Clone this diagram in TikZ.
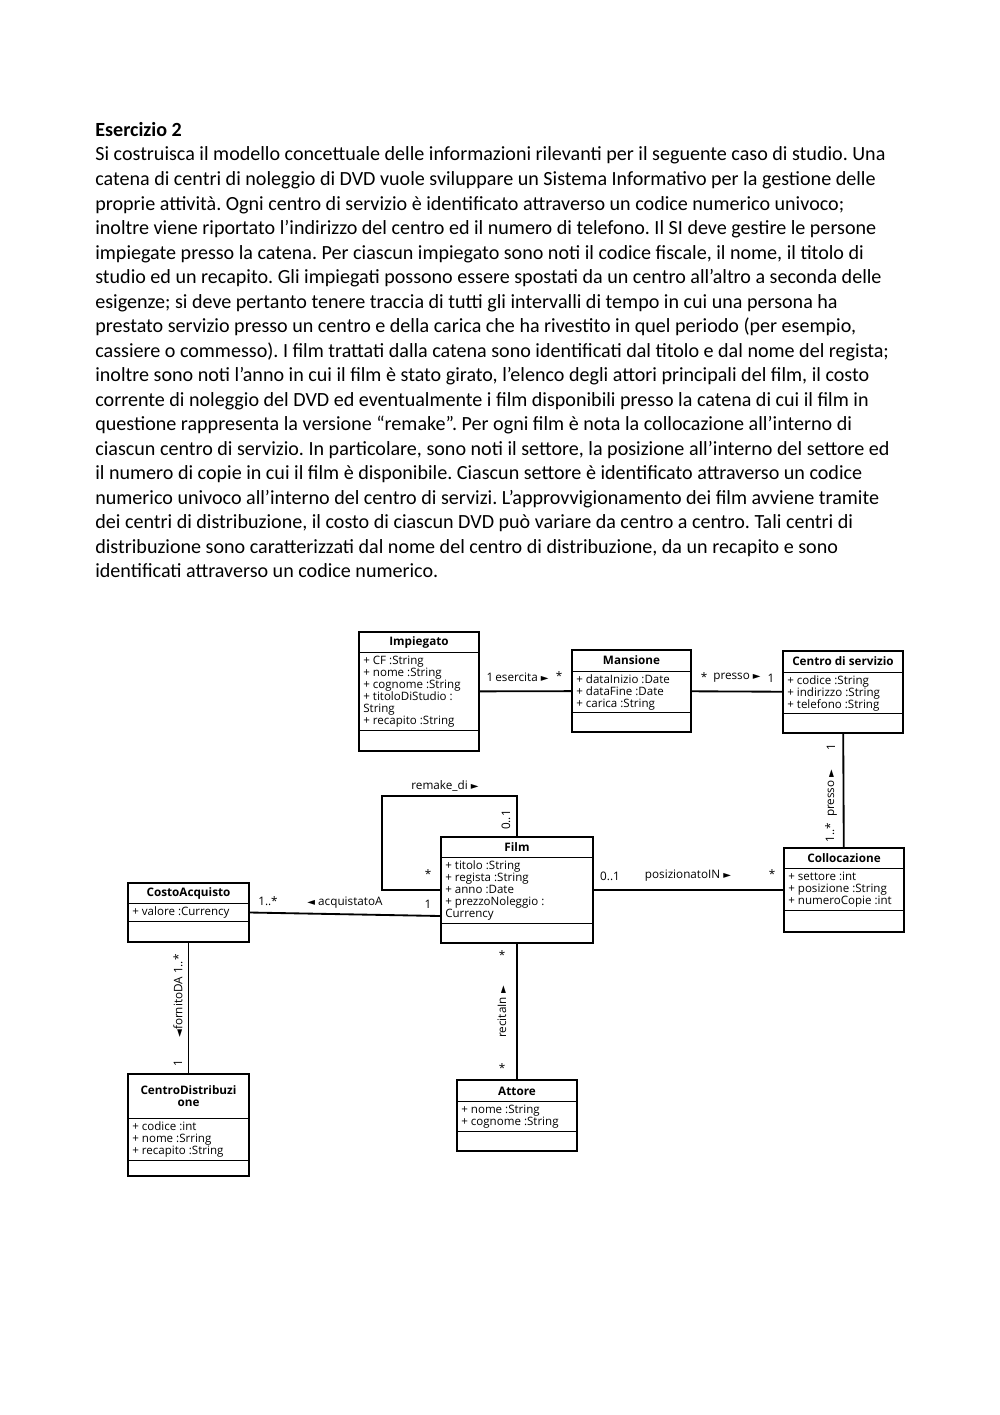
\documentclass[tikz,border=0pt]{standalone}
\usepackage{fontspec}
\setmainfont{Carlito}
\newfontfamily\umlfont{Open Sans}
\newfontfamily\symfont{DejaVu Sans}
\usetikzlibrary{calc,fit}
\newcommand\arrR{{\symfont\fontsize{6}{6}\selectfont\char"25BA}}
\newcommand\arrL{{\symfont\fontsize{6}{6}\selectfont\char"25C4}}
\frenchspacing

\begin{document}
\begin{tikzpicture}[x=0.021cm,y=0.021cm,
    classbox/.style={draw,line width=1.1pt,inner sep=0pt},
    sepline/.style={line width=0.6pt},
    classtitle/.style={font=\umlfont\bfseries\fontsize{7}{7.2}\selectfont,inner sep=0pt,align=center},
    attrs/.style={font=\umlfont\fontsize{6.9}{7.14}\selectfont,inner sep=0pt,align=left,anchor=north west},
    assoc/.style={line width=1.1pt},
    lbl/.style={font=\umlfont\fontsize{7}{8}\selectfont,inner sep=0pt}]
    \useasboundingbox (0,0) rectangle (1000,-1415);

    % testo dell'esercizio
    \node[anchor=north west,inner sep=0pt,align=left,font=\fontsize{12}{14.65}\selectfont]
      (testo) at (95,-122) {\textbf{Esercizio 2}\\
      Si costruisca il modello concettuale delle informazioni rilevanti per il seguente caso di studio. Una\\
      catena di centri di noleggio di DVD vuole sviluppare un Sistema Informativo per la gestione delle\\
      proprie attività. Ogni centro di servizio è identificato attraverso un codice numerico univoco;\\
      inoltre viene riportato l’indirizzo del centro ed il numero di telefono. Il SI deve gestire le persone\\
      impiegate presso la catena. Per ciascun impiegato sono noti il codice fiscale, il nome, il titolo di\\
      studio ed un recapito. Gli impiegati possono essere spostati da un centro all’altro a seconda delle\\
      esigenze; si deve pertanto tenere traccia di tutti gli intervalli di tempo in cui una persona ha\\
      prestato servizio presso un centro e della carica che ha rivestito in quel periodo (per esempio,\\
      cassiere o commesso). I film trattati dalla catena sono identificati dal titolo e dal nome del regista;\\
      inoltre sono noti l’anno in cui il film è stato girato, l’elenco degli attori principali del film, il costo\\
      corrente di noleggio del DVD ed eventualmente i film disponibili presso la catena di cui il film in\\
      questione rappresenta la versione “remake”. Per ogni film è nota la collocazione all’interno di\\
      ciascun centro di servizio. In particolare, sono noti il settore, la posizione all’interno del settore ed\\
      il numero di copie in cui il film è disponibile. Ciascun settore è identificato attraverso un codice\\
      numerico univoco all’interno del centro di servizi. L’approvvigionamento dei film avviene tramite\\
      dei centri di distribuzione, il costo di ciascun DVD può variare da centro a centro. Tali centri di\\
      distribuzione sono caratterizzati dal nome del centro di distribuzione, da un recapito e sono\\
      identificati attraverso un codice numerico.};

    % classi
    \node[classbox,fit={(359,-632) (479,-751)}] (imp) {};
    \node[classtitle] (impT) at (imp.north |- 0,-642) {Impiegato};
    \draw[sepline] (imp.west |- 0,-652) -- (imp.east |- 0,-652);
    \node[attrs] (impA) at (363,-655.5) {+ CF :String\\+ nome :String\\+ cognome :String\\+ titoloDiStudio :\\String\\+ recapito :String};
    \draw[sepline] (imp.west |- 0,-730) -- (imp.east |- 0,-730);

    \node[classbox,fit={(572,-650) (691,-732)}] (man) {};
    \node[classtitle] (manT) at (man.north |- 0,-660.5) {Mansione};
    \draw[sepline] (man.west |- 0,-671) -- (man.east |- 0,-671);
    \node[attrs] (manA) at (576,-674.5) {+ dataInizio :Date\\+ dataFine :Date\\+ carica :String};
    \draw[sepline] (man.west |- 0,-712) -- (man.east |- 0,-712);

    \node[classbox,fit={(783,-651) (903,-733)}] (cds) {};
    \node[classtitle] (cdsT) at (cds.north |- 0,-661) {Centro di servizio};
    \draw[sepline] (cds.west |- 0,-672) -- (cds.east |- 0,-672);
    \node[attrs] (cdsA) at (787,-675.5) {+ codice :String\\+ indirizzo :String\\+ telefono :String};
    \draw[sepline] (cds.west |- 0,-713) -- (cds.east |- 0,-713);

    \node[classbox,fit={(441,-837) (593,-943)}] (film) {};
    \node[classtitle] (filmT) at (film.north |- 0,-847) {Film};
    \draw[sepline] (film.west |- 0,-857) -- (film.east |- 0,-857);
    \node[attrs] (filmA) at (445,-860.5) {+ titolo :String\\+ regista :String\\+ anno :Date\\+ prezzoNoleggio :\\Currency};
    \draw[sepline] (film.west |- 0,-923) -- (film.east |- 0,-923);

    \node[classbox,fit={(784,-848) (904,-932)}] (coll) {};
    \node[classtitle] (collT) at (coll.north |- 0,-858) {Collocazione};
    \draw[sepline] (coll.west |- 0,-868) -- (coll.east |- 0,-868);
    \node[attrs] (collA) at (788,-871.5) {+ settore :int\\+ posizione :String\\+ numeroCopie :int};
    \draw[sepline] (coll.west |- 0,-910) -- (coll.east |- 0,-910);

    \node[classbox,fit={(128,-883) (249,-942)}] (costo) {};
    \node[classtitle] (costoT) at (costo.north |- 0,-893) {CostoAcquisto};
    \draw[sepline] (costo.west |- 0,-903) -- (costo.east |- 0,-903);
    \node[attrs] (costoA) at (132,-906.5) {+ valore :Currency};
    \draw[sepline] (costo.west |- 0,-921) -- (costo.east |- 0,-921);

    \node[classbox,fit={(128,-1074) (249,-1176)}] (cdist) {};
    \node[classtitle] (cdistT) at (cdist.north |- 0,-1096) {CentroDistribuzi\\one};
    \draw[sepline] (cdist.west |- 0,-1118) -- (cdist.east |- 0,-1118);
    \node[attrs] (cdistA) at (132,-1121.5) {+ codice :int\\+ nome :Srring\\+ recapito :String};
    \draw[sepline] (cdist.west |- 0,-1160) -- (cdist.east |- 0,-1160);

    \node[classbox,fit={(457,-1080) (577,-1151)}] (attore) {};
    \node[classtitle] (attoreT) at (attore.north |- 0,-1091) {Attore};
    \draw[sepline] (attore.west |- 0,-1101) -- (attore.east |- 0,-1101);
    \node[attrs] (attoreA) at (461,-1104.5) {+ nome :String\\+ cognome :String};
    \draw[sepline] (attore.west |- 0,-1131) -- (attore.east |- 0,-1131);

    % associazioni
    \draw[assoc] (imp) -- (man);
    \draw[assoc] (man) -- (cds);
    \draw[assoc] (cds) -- (coll);
    \draw[assoc] (film) -- (coll);
    \draw[assoc] (film) -- (attore);
    \draw[assoc] (costo) -- (cdist);
    \draw[assoc] (costo.east) -- ($(film.west)+(0,-26)$);
    \draw[assoc] (film.north) -- ++(0,40) -| ($(film.west)+(-58,0)$) -- (film.west);

    % etichette
    \node[lbl] (esM1) at (490,-677) {1};
    \node[lbl] (esN) at (522,-677) {esercita \arrR};
    \node[lbl] (esM2) at (559,-676) {*};
    \node[lbl] (prM1) at (704,-677) {*};
    \node[lbl] (prN) at (737,-678) {presso \arrR};
    \node[lbl] (prM2) at (771,-678) {1};
    \node[lbl] (rmN) at (445,-786) {remake\_di \arrR};
    \node[lbl,rotate=90] (rmM1) at (506,-820) {0..1};
    \node[lbl] (rmM2) at (428,-874) {*};
    \node[lbl] (acM1) at (428,-904) {1};
    \node[lbl] (acM2) at (268,-901) {1..*};
    \node[lbl] (acN) at (345,-903) {\arrL\ acquistatoA};
    \node[lbl] (poM1) at (610,-876) {0..1};
    \node[lbl] (poN) at (688,-876) {posizionatoIN \arrR};
    \node[lbl] (poM2) at (772,-874) {*};
    \node[lbl,rotate=90] (pcM1) at (831,-747) {1};
    \node[lbl,rotate=90] (pcN) at (831,-806) {1..*\ \ presso \arrR};
    \node[lbl,rotate=90] (foN) at (178,-996) {\arrL fornitoDA 1..*};
    \node[lbl,rotate=90] (foM1) at (178,-1063) {1};
    \node[lbl,rotate=90] (reN) at (502,-1012) {recitaIn \arrR};
    \node[lbl] (reM1) at (502,-955) {*};
    \node[lbl] (reM2) at (502,-1068) {*};
  \end{tikzpicture}
\end{document}
